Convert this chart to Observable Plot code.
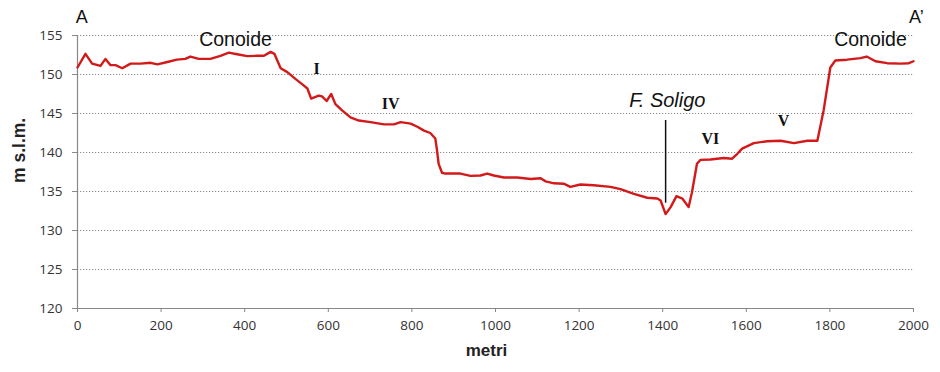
<!DOCTYPE html>
<html>
<head>
<meta charset="utf-8">
<script src="https://cdn.jsdelivr.net/npm/d3@7"></script>
<script src="https://cdn.jsdelivr.net/npm/@observablehq/plot@0.6"></script>
<style>
  html, body { margin: 0; padding: 0; background: #fff; }
</style>
</head>
<body>
<div id="chart"></div>
<script>
// Profile A–A' : distance (metri) and elevation (m s.l.m.)
const distance = [0,19,35,55,67,79,91,107,127,151,175,191,215,238,258,270,290,318,342,362,382,406,430,446,462,471,486,502,522,541,550,559,577,585,596,607,617,633,653,673,701,733,757,773,797,813,829,844,856,860,864,872,880,916,940,964,980,996,1020,1052,1084,1108,1120,1140,1163,1179,1203,1235,1275,1299,1331,1363,1387,1395,1407,1419,1433,1447,1462,1470,1482,1490,1514,1546,1566,1578,1590,1618,1650,1682,1714,1746,1770,1785,1801,1813,1841,1873,1888,1909,1937,1969,1989,2000];
const elevation = [150.9,152.65,151.4,151.1,152.0,151.2,151.2,150.8,151.4,151.4,151.5,151.3,151.6,151.9,152.0,152.3,152.0,152.0,152.4,152.8,152.6,152.35,152.4,152.4,152.9,152.65,150.8,150.3,149.4,148.6,148.2,146.9,147.3,147.2,146.6,147.5,146.2,145.4,144.5,144.1,143.9,143.6,143.6,143.9,143.7,143.3,142.8,142.5,141.8,140.3,138.55,137.4,137.3,137.3,137.0,137.05,137.3,137.05,136.8,136.8,136.6,136.7,136.3,136.05,136.0,135.6,135.9,135.8,135.6,135.3,134.7,134.2,134.1,133.85,132.1,133.0,134.4,134.1,133.0,134.9,138.55,139.05,139.1,139.3,139.2,139.8,140.5,141.2,141.45,141.5,141.2,141.5,141.5,145.4,150.9,151.8,151.9,152.1,152.3,151.7,151.45,151.4,151.45,151.7];

const xTicks = [0,200,400,600,800,1000,1200,1400,1600,1800,2000];
const yTicks = [120,125,130,135,140,145,150,155];

// annotations
const endLabels = ["A", "A’"];
const endX = [10, 2007];
const endY = [157.3, 157.3];

const fanLabels = ["Conoide", "Conoide"];
const fanX = [378, 1897];
const fanY = [154.5, 154.5];

const terraceLabels = ["I", "IV", "VI", "V"];
const terraceX = [572, 749, 1514, 1689];
const terraceY = [150.7, 146.2, 141.8, 144.1];

const riverLabel = ["F. Soligo"];
const riverX = [1411];
const riverY = [146.7];
const riverLineX = [1407];
const riverLineBottom = [133.5];
const riverLineTop = [144.1];

const profile = distance.map((d, i) => ({distance: d, elevation: elevation[i]}));
const mk = (t, xs, ys) => t.map((s, i) => ({text: s, x: xs[i], y: ys[i]}));

const chart = Plot.plot({
  width: 940,
  height: 372,
  marginLeft: 77,
  marginRight: 27,
  marginTop: 35,
  marginBottom: 64,
  x: {domain: [0, 2000], label: null},
  y: {domain: [120, 155], label: null},
  style: {fontFamily: "'Open Sans', sans-serif", fontSize: "13px", color: "#333", background: "#fff"},
  marks: [
    Plot.gridY(yTicks.filter(t => t > 120), {stroke: "#8a8a8a", strokeOpacity: 1, strokeDasharray: "1.2,1.8"}),
    Plot.axisY({ticks: yTicks, tickSize: 5, tickPadding: 10, stroke: "#888", label: null, fontSize: 13.5, tickFormat: d => String(d)}),
    Plot.axisX({ticks: xTicks, tickSize: 4, tickPadding: 8, stroke: "#888", label: null, fontSize: 13.5, tickFormat: d => String(d)}),
    Plot.ruleX([0], {stroke: "#888", strokeWidth: 1.2}),
    Plot.ruleY([120], {stroke: "#888", strokeWidth: 1.2}),
    Plot.line(profile, {x: "distance", y: "elevation", stroke: "#d21a1a", strokeWidth: 2.4, curve: "linear"}),
    Plot.ruleX(riverLineX.map((x, i) => ({x, y1: riverLineBottom[i], y2: riverLineTop[i]})),
      {x: "x", y1: "y1", y2: "y2", stroke: "#111", strokeWidth: 1.5}),
    Plot.text(mk(endLabels, endX, endY), {x: "x", y: "y", text: "text", fontSize: 18, fill: "#111",
      fontFamily: "'Liberation Sans', Arial, sans-serif"}),
    Plot.text(mk(fanLabels, fanX, fanY), {x: "x", y: "y", text: "text", fontSize: 19.5, fill: "#111",
      fontFamily: "'Liberation Sans', Arial, sans-serif"}),
    Plot.text(mk(terraceLabels, terraceX, terraceY), {x: "x", y: "y", text: "text", fontSize: 16, fill: "#111",
      fontWeight: "900", fontFamily: "'Liberation Serif', 'DejaVu Serif', serif"}),
    Plot.text(mk(riverLabel, riverX, riverY), {x: "x", y: "y", text: "text", fontSize: 20, fill: "#111",
      fontStyle: "italic", fontFamily: "'Liberation Sans', Arial, sans-serif"}),
    Plot.text(["metri"], {frameAnchor: "bottom", dx: -9, dy: 47, text: d => d, fontSize: 17, fontWeight: "bold",
      fill: "#222", fontFamily: "'Liberation Sans', Arial, sans-serif"}),
    Plot.text(["m s.l.m."], {frameAnchor: "left", dx: -58, dy: 11, rotate: -90, text: d => d, fontSize: 17.5, fontWeight: "bold",
      fill: "#222", fontFamily: "'Liberation Sans', Arial, sans-serif"})
  ]
});

document.getElementById("chart").appendChild(chart);
</script>
</body>
</html>
